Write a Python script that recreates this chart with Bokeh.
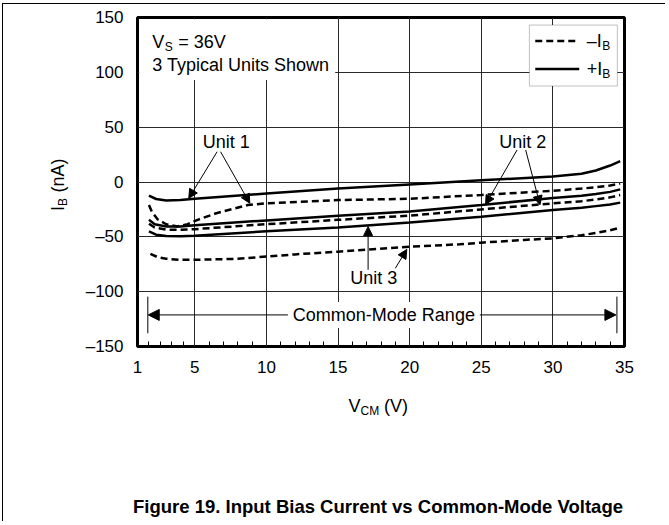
import math
from bokeh.plotting import figure
from bokeh.layouts import row, column
from bokeh.models import Range1d, FixedTicker, Label, Arrow, NormalHead, BoxAnnotation
from bokeh.embed import file_html
from bokeh.resources import INLINE

# ---------------- data ----------------
x_ticks = [1, 5, 10, 15, 20, 25, 30, 35]
x_minor = [1.8, 2.6, 3.4, 4.2, 6, 7, 8, 9, 11, 12, 13, 14, 16, 17, 18, 19,
           21, 22, 23, 24, 26, 27, 28, 29, 31, 32, 33, 34]
y_ticks = [-150, -100, -50, 0, 50, 100, 150]
y_tick_labels = ["\u2013150", "\u2013100", "\u201350", "0", "50", "100", "150"]

# Unit 1
u1_pos_v = [1.8, 2.3, 3, 4, 5, 10, 15, 20, 25, 30, 32, 33, 34, 34.7]
u1_pos_i = [-12.5, -15.5, -16.8, -16.5, -15.3, -10.5, -6.0, -2.2, 1.5, 5.0, 7.5, 10.5, 15.0, 19.0]
u1_neg_v = [1.8, 2.0, 2.4, 3, 3.8, 4.5, 5.2, 6.5, 8.7, 10, 12.4, 15, 20, 25, 30, 32, 33, 34, 34.7]
u1_neg_i = [-21, -27, -34, -38.5, -40.5, -38.5, -34.5, -28.5, -21, -19.5, -18, -16.5, -15.3, -11.8, -8.0, -6.0, -4.8, -3.2, -1.5]
# Unit 2
u2_pos_v = [1.8, 2.2, 3, 4, 5, 10, 15, 20, 25, 30, 32, 33, 34, 34.7]
u2_pos_i = [-34.5, -38.5, -40.5, -40.5, -39.5, -35.0, -30.8, -27.0, -21.0, -14.5, -12.5, -11.0, -9.0, -6.7]
u2_neg_v = [1.8, 2.2, 3, 4, 5, 10, 15, 20, 25, 30, 32, 33, 34, 34.7]
u2_neg_i = [-38.0, -41.5, -43.5, -43.5, -43.0, -38.5, -34.5, -30.7, -25.0, -19.5, -17.5, -16.0, -14.0, -11.9]
# Unit 3
u3_pos_v = [1.8, 2.3, 3, 4, 5, 10, 15, 20, 25, 30, 32, 33, 34, 34.7]
u3_pos_i = [-45.0, -48.0, -49.3, -49.5, -49.0, -45.0, -41.5, -37.0, -31.6, -25.5, -23.5, -22.0, -20.5, -18.8]
u3_neg_v = [1.9, 2.4, 3, 4, 5, 8, 10, 12, 15, 20, 23.5, 25, 28, 30, 32, 33, 34, 34.7]
u3_neg_i = [-65.5, -68.5, -70, -71, -71, -70, -68, -66, -63.5, -59, -56.8, -55.3, -52.8, -51.4, -48.5, -46.5, -44, -41.6]

FONT = "Liberation Sans"
DASH = "7 4"

# ---------------- main chart ----------------
p = figure(width=593, height=382, x_range=Range1d(1, 35), y_range=Range1d(-150, 150),
           output_backend="svg", toolbar_location=None, title_location=None,
           min_border_left=65, min_border_right=41, min_border_top=13, min_border_bottom=40)
p.background_fill_color = "white"
p.border_fill_color = "white"
p.outline_line_color = "black"
p.outline_line_width = 3

p.xaxis.ticker = FixedTicker(ticks=x_ticks, minor_ticks=x_minor)
p.yaxis.ticker = FixedTicker(ticks=y_ticks)
p.yaxis.major_label_overrides = {t: s for t, s in zip(y_ticks, y_tick_labels)}
for ax in (p.xaxis[0], p.yaxis[0]):
    ax.axis_line_color = None
    ax.major_tick_in = 0
    ax.major_tick_out = 0
    ax.major_label_text_font = FONT
    ax.major_label_text_font_size = "17px"
    ax.major_label_text_color = "black"
    ax.major_label_standoff = 14
p.xaxis.minor_tick_in = 5
p.xaxis.minor_tick_out = 0
p.xaxis.minor_tick_line_color = "black"
p.yaxis.minor_tick_line_color = None

for g in (p.xgrid[0], p.ygrid[0]):
    g.grid_line_color = "#2a2a2a"
    g.grid_line_width = 1

# curves
p.line(u1_pos_v, u1_pos_i, line_color="black", line_width=2.5)
p.line(u1_neg_v, u1_neg_i, line_color="black", line_width=2.5, line_dash=DASH)
p.line(u2_pos_v, u2_pos_i, line_color="black", line_width=2.5)
p.line(u2_neg_v, u2_neg_i, line_color="black", line_width=2.5, line_dash=DASH)
p.line(u3_pos_v, u3_pos_i, line_color="black", line_width=2.5)
p.line(u3_neg_v, u3_neg_i, line_color="black", line_width=2.5, line_dash=DASH)


def txt(fig, x, y, s, size=18, dx=0, dy=0, align="left", baseline="middle",
        angle=0.0, style="normal", bg=None, pad=0):
    lab = Label(x=x, y=y, text=s, x_offset=dx, y_offset=dy, text_align=align,
                text_baseline=baseline, angle=angle, text_font=FONT,
                text_font_size=f"{size}px", text_font_style=style, text_color="black")
    if bg is not None:
        lab.background_fill_color = bg
        lab.padding = pad
    fig.add_layout(lab)


def arrow(x0, y0, x1, y1, size=9):
    p.add_layout(Arrow(end=NormalHead(size=size, fill_color="black", line_color="black", line_width=1),
                       x_start=x0, y_start=y0, x_end=x1, y_end=y1,
                       line_color="black", line_width=1))


# conditions box (top-left)
p.add_layout(BoxAnnotation(left=1.12, right=14.8, top=148.5, bottom=93,
                           fill_color="white", fill_alpha=1, line_color=None))
txt(p, 2.03, 127.9, "V")
txt(p, 2.03, 127.9, "S", size=12, dx=12.5, dy=-5)
txt(p, 2.03, 127.9, "= 36V", dx=26)
txt(p, 2.03, 106.7, "3 Typical Units Shown")

# legend (top-right)
p.add_layout(BoxAnnotation(left=28.36, right=34.5, top=143.1, bottom=87.5,
                           fill_color="white", fill_alpha=1, line_color="#333333", line_width=1))
r1 = p.segment(x0=[28.77], y0=[128.5], x1=[31.84], y1=[128.5], line_color="black",
               line_width=2.5, line_dash=DASH)
r2 = p.segment(x0=[28.77], y0=[103.0], x1=[31.84], y1=[103.0], line_color="black", line_width=2.5)
r1.level = "overlay"
r2.level = "overlay"
txt(p, 32.36, 128.8, "\u2013I")
txt(p, 32.36, 128.8, "B", size=12, dx=15.5, dy=-5)
txt(p, 32.36, 102.7, "+I")
txt(p, 32.36, 102.7, "B", size=12, dx=15.5, dy=-5)

# unit call-outs
txt(p, 7.2, 36.7, "Unit 1", align="center")
arrow(6.56, 27.6, 4.58, -14.9)
arrow(6.8, 27.6, 8.84, -19.4)
txt(p, 27.9, 36.7, "Unit 2", align="center")
arrow(27.5, 29.2, 25.3, -20.5)
arrow(28.1, 29.2, 29.1, -20.8)
txt(p, 17.5, -87.8, "Unit 3", align="center")
arrow(17.1, -80, 17.1, -40.7)
arrow(19.0, -78.7, 19.8, -61.5)

# common-mode range
p.segment(x0=[1.72, 34.47], y0=[-104.5, -104.5], x1=[1.72, 34.47], y1=[-137.9, -137.9],
          line_color="black", line_width=1)
arrow(11.5, -121.2, 1.75, -121.2, size=11)
arrow(24.9, -121.2, 34.4, -121.2, size=11)
txt(p, 18.2, -121.2, "Common-Mode Range", align="center", bg="white", pad=3)


# ---------------- text panels around the chart ----------------
def panel(w, h, y_range=None):
    f = figure(width=w, height=h, x_range=Range1d(0, w),
               y_range=y_range if y_range is not None else Range1d(0, h),
               x_axis_type=None, y_axis_type=None, output_backend="svg",
               toolbar_location=None, title_location=None, min_border=0)
    f.outline_line_color = None
    f.background_fill_color = "white"
    f.border_fill_color = "white"
    f.grid.visible = False
    return f


# y title panel shares the chart's vertical scale (frames are aligned in a row)
ylab = panel(69, 382, y_range=p.y_range)
txt(ylab, 54, -26.4, "I", angle=math.pi / 2)
txt(ylab, 54, -26.4, "B", size=12, angle=math.pi / 2, dx=5, dy=5)
txt(ylab, 54, -26.4, "(nA)", angle=math.pi / 2, dy=18.5)

xlab = panel(662, 40)
txt(xlab, 345, 21, "V")
txt(xlab, 345, 21, "CM", size=12, dx=12, dy=-5)
txt(xlab, 345, 21, "(V)", dx=35.5)

cap = panel(662, 95)
txt(cap, 374.5, 15, "Figure 19. Input Bias Current vs Common-Mode Voltage",
    size=18.5, align="center", style="bold")

layout = column(row(ylab, p), xlab, cap)
layout.styles = {"margin-left": "2px", "margin-top": "3px",
                 "border-top": "1px solid black", "border-left": "1px solid black"}
open("out.html", "w").write(file_html(layout, INLINE))
